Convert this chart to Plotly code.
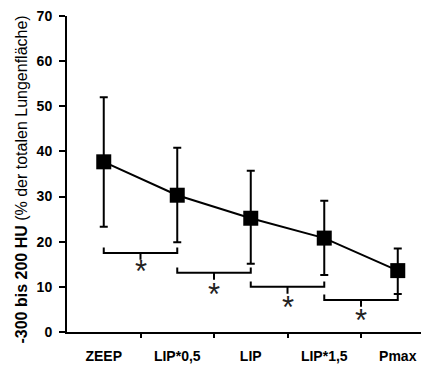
import plotly.graph_objects as go

categories = ["ZEEP", "LIP*0,5", "LIP", "LIP*1,5", "Pmax"]
means = [37.7, 30.3, 25.2, 20.8, 13.6]
err_upper = [52.0, 40.8, 35.7, 29.1, 18.5]
err_lower = [23.3, 19.9, 15.1, 12.6, 8.4]
bracket_levels = [17.5, 13.1, 10.0, 7.1]
star_levels = [14.2, 9.3, 6.4, 3.4]
y_ticks = [0, 10, 20, 30, 40, 50, 60, 70]
y_title = "<b>-300 bis 200 HU</b> (% der totalen Lungenfläche)"

xs = list(range(len(categories)))
plus = [u - m for u, m in zip(err_upper, means)]
minus = [m - l for m, l in zip(means, err_lower)]

fig = go.Figure()
fig.add_trace(go.Scatter(
    x=xs, y=means, mode="lines+markers",
    line=dict(color="black", width=2),
    marker=dict(symbol="square", size=15, color="black"),
    error_y=dict(type="data", symmetric=False, array=plus, arrayminus=minus,
                 color="black", thickness=2, width=4),
    showlegend=False, hoverinfo="skip",
))

shapes = []
annotations = []
for i, lvl in enumerate(bracket_levels):
    a, b = xs[i], xs[i + 1]
    mid = (a + b) / 2
    path = (f"M {a},{lvl + 1.2} L {a},{lvl} L {b},{lvl} L {b},{lvl + 1.2} "
            f"M {mid},{lvl} L {mid},{lvl - 1.5}")
    shapes.append(dict(type="path", path=path, xref="x", yref="y",
                       line=dict(color="black", width=2)))
    annotations.append(dict(x=mid, y=star_levels[i], xref="x", yref="y",
                            text="*", showarrow=False, yanchor="middle",
                            yshift=-4,
                            font=dict(family="Liberation Sans", size=31, color="#222")))

annotations.append(dict(x=-0.127, y=0.4826, xref="paper", yref="paper",
                        text=y_title, textangle=-90, showarrow=False,
                        xanchor="center", yanchor="middle",
                        font=dict(family="Liberation Sans", size=16, color="black")))

# page body has an 8px margin; margins compensate for it
fig.update_layout(
    width=429, height=365,
    margin=dict(l=59, r=8, t=8, b=41, autoexpand=False),
    plot_bgcolor="white", paper_bgcolor="white",
    shapes=shapes, annotations=annotations,
    font=dict(family="Liberation Sans", color="black"),
    xaxis=dict(
        tickmode="array", tickvals=xs, ticktext=[f"<b>{c}</b>" for c in categories],
        range=[-0.5, 4.425], showgrid=False, zeroline=False,
        showline=True, linecolor="black", linewidth=2,
        ticks="", ticklabelstandoff=10, ticklabeloverflow="allow",
        tickfont=dict(size=14, color="black"),
    ),
    xaxis2=dict(
        overlaying="x", matches="x", tickmode="array",
        tickvals=[x + 0.5 for x in xs[:-1]], ticktext=["" for _ in xs[:-1]],
        ticks="outside", ticklen=5, tickwidth=2, tickcolor="black",
        showgrid=False, zeroline=False, showline=False, side="bottom",
    ),
    yaxis=dict(
        range=[0, 70], tickmode="array", tickvals=y_ticks,
        ticktext=[f"<b>{t}</b>" for t in y_ticks],
        showgrid=False, zeroline=False, showline=True, linecolor="black",
        linewidth=2, ticks="outside", ticklen=6, tickwidth=2, tickcolor="black",
        ticklabelstandoff=4, ticklabeloverflow="allow",
        tickfont=dict(size=14, color="black"),
    ),
)
fig.add_trace(go.Scatter(x=[xs[0]], y=[None], xaxis="x2", showlegend=False))

fig.write_html("out.html")
